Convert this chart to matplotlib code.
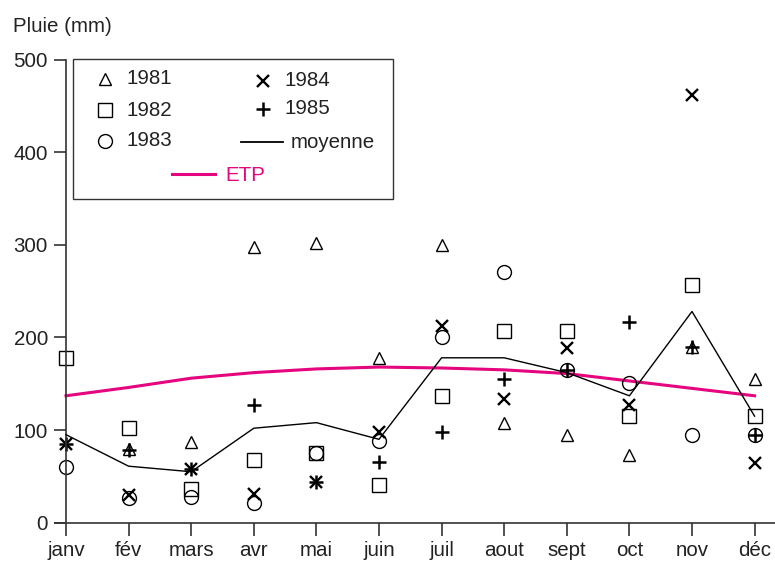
import matplotlib
matplotlib.use("Agg")
import matplotlib.pyplot as plt
import numpy as np

plt.rcParams['font.family'] = ['Liberation Sans', 'DejaVu Sans']

mois = ["janv", "fév", "mars", "avr", "mai", "juin", "juil", "aout", "sept", "oct", "nov", "déc"]

# pluie mensuelle (mm) par annee
p1981 = [np.nan, 80, 87, 298, 302, 178, 300, 108, 95, 73, 190, 155]
p1982 = [178, 102, 36, 68, 75, 41, 137, 207, 207, 115, 257, 115]
p1983 = [60, 27, 28, 21, 75, 88, 200, 271, 165, 151, 95, 95]
p1984 = [85, 30, 58, 31, 44, 98, 212, 133, 189, 127, 462, 64]
p1985 = [85, 78, 58, 127, 44, 65, 98, 155, 165, 217, 190, 95]
moyenne = [95, 61, 55, 102, 108, 90, 178, 178, 162, 137, 228, 115]
etp = [137, 146, 156, 162, 166, 168, 167, 165, 161, 153, 145, 137]

ETP_COLOR = "#e5057f"
FS = 14.8
W, H = 775, 561

fig = plt.figure(figsize=(W / 100, H / 100), dpi=100)
ax = fig.add_axes([55 / W, 38.3 / H, 720 / W, 463.2 / H])

x = np.arange(len(mois))
mk = dict(linestyle="none", color="black", markerfacecolor="none", clip_on=False)
ax.plot(x, etp, color=ETP_COLOR, lw=2.2, zorder=2)
ax.plot(x, moyenne, color="black", lw=1.0, zorder=3)
ax.plot(x, p1981, marker="^", markersize=9, markeredgewidth=1.0, **mk)
ax.plot(x, p1982, marker="s", markersize=10, markeredgewidth=1.0, **mk)
ax.plot(x, p1983, marker="o", markersize=10, markeredgewidth=1.0, **mk)
ax.plot(x, p1984, marker="x", markersize=8.5, markeredgewidth=1.7, **mk)
ax.plot(x, p1985, marker="+", markersize=10, markeredgewidth=1.8, **mk)

x0 = -11 / 62.6
ax.set_xlim(x0, x0 + 720 / 62.6)
ax.set_ylim(0, 500)
ax.spines["top"].set_visible(False)
ax.spines["right"].set_visible(False)
ax.spines["left"].set_position(("data", 0))
for s in ["left", "bottom"]:
    ax.spines[s].set_color("#333333")
    ax.spines[s].set_linewidth(1.2)

ax.set_xticks(x)
ax.set_xticklabels(mois)
ax.set_yticks([0, 100, 200, 300, 400, 500])
ax.tick_params(axis="both", direction="out", length=9, width=1.2, color="#333333",
               labelsize=FS, labelcolor="#222222")
ax.tick_params(axis="x", pad=4)
ax.tick_params(axis="y", pad=4)

fig.text(13 / W, 1 - 27 / H, "Pluie (mm)", fontsize=FS, color="#222222", va="center", ha="left")


def fx(px):
    return px / W


def fy(py):
    return 1 - py / H


# legende dessinee a la main
box = plt.Rectangle((fx(73), fy(199)), fx(393) - fx(73), fy(59) - fy(199),
                    transform=fig.transFigure, fill=True, facecolor="white",
                    edgecolor="#333333", lw=1.0, zorder=5)
fig.add_artist(box)

leg_items = [
    ("^", 9, 1.0, 105, 79, "1981"),
    ("s", 10, 1.0, 105, 110, "1982"),
    ("o", 10, 1.0, 105, 141, "1983"),
    ("x", 8.5, 1.7, 263, 81, "1984"),
    ("+", 10, 1.8, 263, 109, "1985"),
]
for m, ms, mew, px, py, lab in leg_items:
    fig.add_artist(plt.Line2D([fx(px)], [fy(py)], marker=m, markersize=ms, markeredgewidth=mew,
                              color="black", markerfacecolor="none", transform=fig.transFigure, zorder=6))
    fig.text(fx(px + 22), fy(py), lab, fontsize=FS, color="#222222", va="center", ha="left", zorder=6)

fig.add_artist(plt.Line2D([fx(241), fx(283)], [fy(142), fy(142)], color="black", lw=1.3,
                          transform=fig.transFigure, zorder=6))
fig.text(fx(291), fy(142), "moyenne", fontsize=FS, color="#222222", va="center", ha="left", zorder=6)
fig.add_artist(plt.Line2D([fx(172), fx(215)], [fy(174), fy(174)], color=ETP_COLOR, lw=2.2,
                          transform=fig.transFigure, zorder=6))
fig.text(fx(225), fy(175), "ETP", fontsize=FS, color=ETP_COLOR, va="center", ha="left", zorder=6)

fig.savefig("out.png", dpi=100)
